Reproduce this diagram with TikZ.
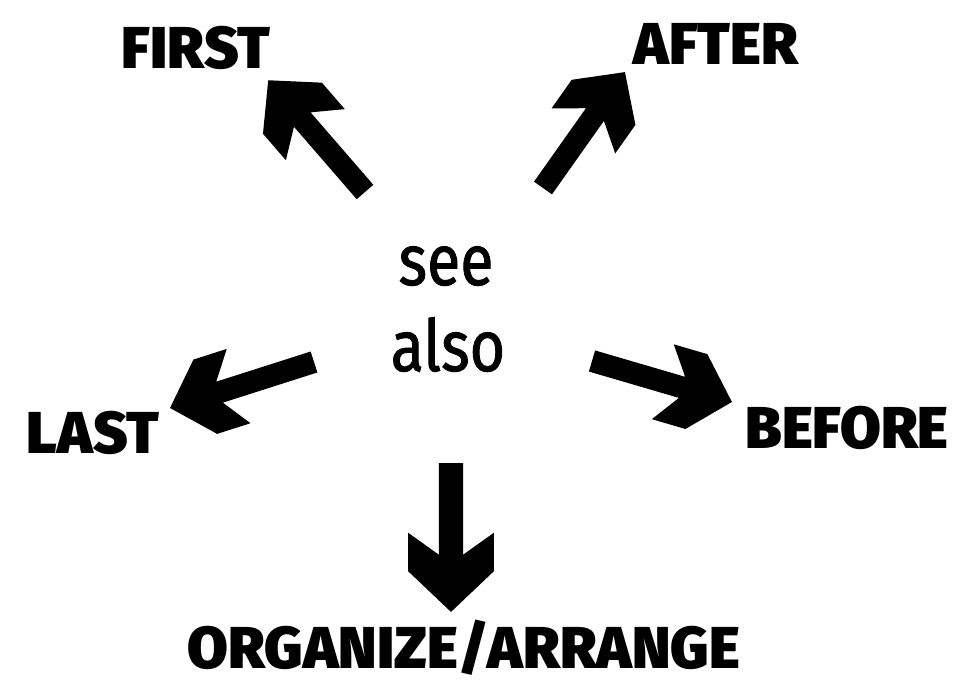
\documentclass[tikz,border=0pt]{standalone}
\usepackage{fontspec}
\usepackage{tikz}
\usetikzlibrary{calc}
\newfontfamily\heavyfont{Fira Sans Black}
\newfontfamily\seefont{Fira Sans}[FakeStretch=0.85, FakeBold=1.2]

% thick block arrow from #2 (tail) to #3 (tip), #1 scales the width
\newcommand{\bigarrow}[3][1]{%
  \path let \p1=($(#3)-(#2)$) in
    \pgfextra{\pgfmathsetmacro\arrang{atan2(\y1,\x1)}\xdef\arrang{\arrang}%
      \pgfmathsetmacro\arrlen{veclen(\x1,\y1)/0.71132/#1}\xdef\arrlen{\arrlen}%
      \pgfmathsetmacro\arrunit{0.025*#1}\xdef\arrunit{\arrunit}};
  \fill[shift={(#2)}, rotate=\arrang, x=\arrunit cm, y=\arrunit cm]
    (0,-11) -- (\arrlen-52,-11) -- (\arrlen-72,-39) -- (\arrlen-37,-39)
    -- (\arrlen,0)
    -- (\arrlen-37,39) -- (\arrlen-72,39) -- (\arrlen-52,11) -- (0,11) -- cycle;
}

\begin{document}
\begin{tikzpicture}[
  x=0.025cm, y=-0.025cm,
  word/.style={font=\heavyfont\fontsize{42}{42}\selectfont, anchor=base, inner sep=0pt},
  seetext/.style={font=\seefont\fontsize{51}{51}\selectfont, anchor=base, inner sep=0pt}
]
\useasboundingbox (0,0) rectangle (958,682);

\node[seetext] (see) at (446,285) {see};
\node[seetext] (also) at (448,371) {also};

\node[word] (first) at (196,69) {FIRST};
\node[word] (after) at (716,65) {AFTER};
\node[word] (last) at (93,453) {LAST};
\node[word] (before) at (847,448) {BEFORE};
\node[word] (organize) at (464,668) {ORGANIZE/ARRANGE};

% arrow ends
\coordinate (firsttail) at (365,192);
\coordinate (firsttip) at (268,80);
\coordinate (aftertail) at (543,188);
\coordinate (aftertip) at (625,72);
\coordinate (lasttail) at (314,362);
\coordinate (lasttip) at (170,408);
\coordinate (beforetail) at (592,361);
\coordinate (beforetip) at (732,402);
\coordinate (downtail) at (451,463);
\coordinate (downtip) at (451,612);

\bigarrow{firsttail}{firsttip}
\bigarrow{aftertail}{aftertip}
\bigarrow{lasttail}{lasttip}
\bigarrow{beforetail}{beforetip}
\bigarrow[1.1]{downtail}{downtip}

\end{tikzpicture}
\end{document}
